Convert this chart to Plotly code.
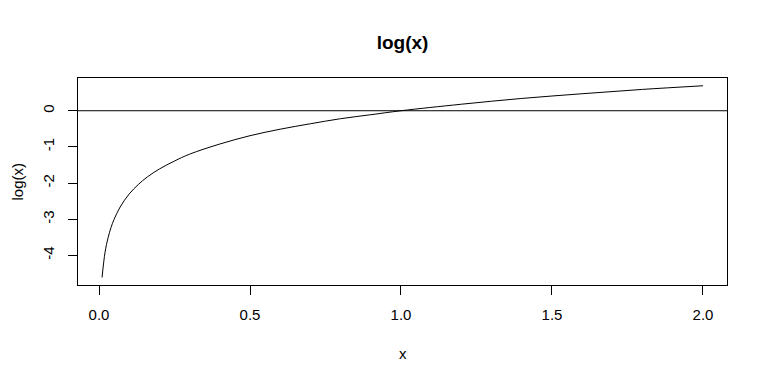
import plotly.graph_objects as go

# Values
x_vals = [0.01, 0.02, 0.03, 0.04, 0.05, 0.07, 0.10, 0.13, 0.16, 0.20, 0.25, 0.30,
          0.40, 0.50, 0.60, 0.70, 0.80, 0.90, 1.00, 1.20, 1.40, 1.60, 1.80, 2.00]
y_vals = [-4.61, -3.91, -3.51, -3.22, -3.00, -2.66, -2.30, -2.04, -1.83, -1.61, -1.39, -1.20,
          -0.92, -0.69, -0.51, -0.36, -0.22, -0.11, 0.00, 0.18, 0.34, 0.47, 0.59, 0.69]
x_ticks = [0.0, 0.5, 1.0, 1.5, 2.0]
x_ticklabels = ["0.0", "0.5", "1.0", "1.5", "2.0"]
y_ticks = [-4, -3, -2, -1, 0]
y_ticklabels = ["-4", "-3", "-2", "-1", "0"]
title_text = "log(x)"
x_label = "x"
y_label = "log(x)"
hline_y = 0

FONT = "Liberation Sans, Arial, sans-serif"
OFF = 8  # page body margin

W, H = 768 - OFF, 383 - OFF

fig = go.Figure()
fig.add_trace(go.Scatter(x=x_vals, y=y_vals, mode="lines",
                         line=dict(color="black", width=1), line_shape="spline",
                         showlegend=False, hoverinfo="skip"))

fig.add_shape(type="line", xref="paper", x0=0, x1=1, yref="y", y0=hline_y, y1=hline_y,
              line=dict(color="black", width=1))

fig.update_layout(
    width=W, height=H,
    margin=dict(l=78 - OFF, r=41, t=78 - OFF, b=98, autoexpand=False),
    plot_bgcolor="white", paper_bgcolor="white",
    font=dict(family=FONT, size=15, color="black"),
    title=dict(text="<b>" + title_text + "</b>", x=(402.5 - OFF) / W, xanchor="center",
               y=1 - (42 - OFF) / H, yanchor="middle", yref="container",
               font=dict(size=19, family=FONT, color="black")),
    xaxis=dict(range=[-0.0696, 2.0796], tickmode="array", tickvals=x_ticks,
               ticktext=x_ticklabels, ticks="outside", ticklen=9, tickwidth=1,
               tickcolor="black", showline=True, linecolor="black", linewidth=1,
               mirror=True, showgrid=False, zeroline=False, ticklabelstandoff=7),
    yaxis=dict(range=[-4.817, 0.905], tickmode="array", tickvals=y_ticks,
               ticktext=y_ticklabels, ticks="outside", ticklen=9, tickwidth=1,
               tickcolor="black", showline=True, linecolor="black", linewidth=1,
               mirror=True, showgrid=False, zeroline=False, tickangle=-90,
               ticklabelstandoff=8),
    annotations=[
        dict(text=x_label, xref="paper", yref="paper", x=0.5, y=0, yshift=-68,
             xanchor="center", yanchor="middle", showarrow=False,
             font=dict(size=15, family=FONT, color="black")),
        dict(text=y_label, xref="paper", yref="paper", x=0, y=0.5, xshift=-61,
             xanchor="center", yanchor="middle", textangle=-90, showarrow=False,
             font=dict(size=15, family=FONT, color="black")),
    ],
)

fig.write_html("out.html")
